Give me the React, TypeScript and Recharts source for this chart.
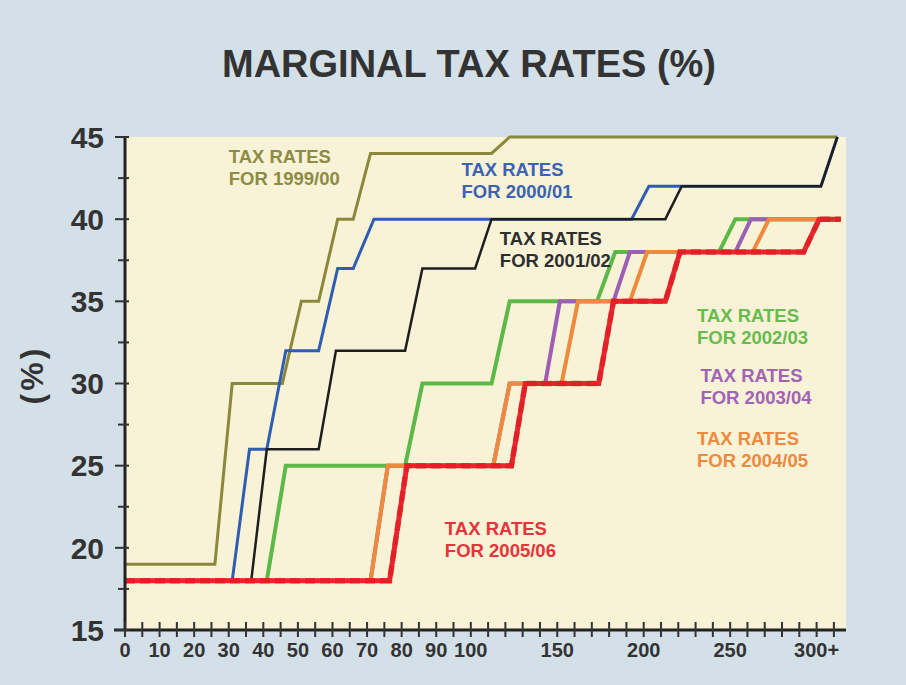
import React from "react";
import { LineChart, Line, XAxis, YAxis, CartesianGrid, ReferenceDot } from "recharts";

const FONT = '"Liberation Sans", Arial, Helvetica, sans-serif';

// income breakpoints (x axis units) and the marginal rate at each breakpoint
const income9900 = [0, 26, 31, 45.5, 51, 56, 61.5, 66, 71, 112, 122.5, 312];
const rate9900 = [19, 19, 30, 30, 35, 35, 40, 40, 44, 44, 45, 45];

const income0001 = [0, 31, 36, 41, 46.5, 56, 61.5, 66, 72, 193, 203, 302.5, 312];
const rate0001 = [18, 18, 26, 26, 32, 32, 37, 37, 40, 40, 42, 42, 45];

const income0102 = [0, 36.5, 41, 56, 61, 81, 86, 102.5, 112, 212.5, 222, 302.5, 312];
const rate0102 = [18, 18, 26, 26, 32, 32, 37, 37, 40, 40, 42, 42, 45];

const income0203 = [0, 41, 46.5, 81, 86, 112, 122.5, 173, 183.5, 243.5, 253, 314];
const rate0203 = [18, 18, 25, 25, 30, 30, 35, 35, 38, 38, 40, 40];

const income0304 = [0, 71, 76, 113, 122.5, 143, 151.5, 182.5, 192, 253, 262, 314];
const rate0304 = [18, 18, 25, 25, 30, 30, 35, 35, 38, 38, 40, 40];

const income0405 = [0, 71, 76, 113, 122.5, 152.5, 162, 192, 202, 263, 272.5, 314];
const rate0405 = [18, 18, 25, 25, 30, 30, 35, 35, 38, 38, 40, 40];

const income0506 = [0, 76.5, 81.5, 123.5, 131.5, 174, 182.5, 212.5, 221, 292.5, 301.5, 314];
const rate0506 = [18, 18, 25, 25, 30, 30, 35, 35, 38, 38, 40, 40];

const xLabelIncomes = [0, 10, 20, 30, 40, 50, 60, 70, 80, 90, 100, 150, 200, 250, 300];
const xLabelTexts = ["0", "10", "20", "30", "40", "50", "60", "70", "80", "90", "100", "150", "200", "250", "300+"];
const yTicks = [15, 17.5, 20, 22.5, 25, 27.5, 30, 32.5, 35, 37.5, 40, 42.5, 45];

// axis is linear to 100, then squeezed by half beyond it
const toPos = (income: number) => (income <= 100 ? income : 100 + (income - 100) / 2);

const xTicks = Array.from({ length: 42 }, (_, i) => i * 5);

const pts = (inc: number[], rate: number[]) => inc.map((v, i) => ({ pos: toPos(v), rate: rate[i] }));

const series = [
  { key: "9900", data: pts(income9900, rate9900), color: "#8a883a", width: 3 },
  { key: "0001", data: pts(income0001, rate0001), color: "#2f5db3", width: 3 },
  { key: "0102", data: pts(income0102, rate0102), color: "#1e1e1e", width: 2.5 },
  { key: "0203", data: pts(income0203, rate0203), color: "#5cb947", width: 4 },
  { key: "0304", data: pts(income0304, rate0304), color: "#9d5fb5", width: 4 },
  { key: "0405", data: pts(income0405, rate0405), color: "#ef8a3c", width: 4 },
];
const red = pts(income0506, rate0506);

const notes = [
  { income: 30, rate: 43.4, color: "#8d8b45", year: "1999/00" },
  { income: 97.3, rate: 42.6, color: "#3a63b3", year: "2000/01" },
  { income: 116.8, rate: 38.4, color: "#2e2e2e", year: "2001/02" },
  { income: 230.8, rate: 33.75, color: "#68bb4e", year: "2002/03" },
  { income: 232.8, rate: 30.1, color: "#a163b6", year: "2003/04" },
  { income: 230.8, rate: 26.25, color: "#ee8a3e", year: "2004/05" },
  { income: 92.5, rate: 20.8, color: "#e5343a", year: "2005/06" },
];

const XTick = (props: any) => {
  const { x, y, payload } = props;
  const idx = xLabelIncomes.findIndex((v) => Math.abs(toPos(v) - payload.value) < 0.01);
  return (
    <g>
      <line x1={x} x2={x} y1={y - 8} y2={y + 7} stroke="#333" strokeWidth={2} />
      {payload.value === 0 && <line x1={x - 11} x2={x} y1={y} y2={y} stroke="#222" strokeWidth={3} />}
      {idx >= 0 && (
        <text x={x} y={y + 27} textAnchor="middle" fontSize={20} fontWeight="bold" fill="#333" fontFamily={FONT}>
          {xLabelTexts[idx]}
        </text>
      )}
    </g>
  );
};

const YTick = (props: any) => {
  const { x, y, payload } = props;
  const major = payload.value % 5 === 0;
  return (
    <g>
      <line x1={x - (major ? 10 : 7)} x2={x + 4} y1={y} y2={y} stroke="#333" strokeWidth={2} />
      {major && (
        <text x={x - 21} y={y} dy="0.36em" textAnchor="end" fontSize={30} fontWeight="bold" fill="#333" fontFamily={FONT}>
          {payload.value}
        </text>
      )}
    </g>
  );
};

const Note = ({ cx, cy, color, year }: any) => (
  <text x={cx} y={cy} fontSize={18.5} fontWeight="bold" fill={color} fontFamily={FONT}>
    <tspan x={cx} y={cy}>TAX RATES</tspan>
    <tspan x={cx} y={cy + 22}>{"FOR " + year}</tspan>
  </text>
);

export default function App() {
  return (
    <div style={{ position: "absolute", left: 0, top: 0, width: 906, height: 685, background: "#d4e0e8", overflow: "hidden" }}>
      <LineChart width={906} height={685} margin={{ top: 137, right: 60, bottom: 0, left: 0 }}>
        <CartesianGrid horizontal={false} vertical={false} fill="#f8f2d6" stroke="none" />
        <XAxis
          type="number"
          dataKey="pos"
          domain={[0, 208.5]}
          ticks={xTicks}
          interval={0}
          allowDataOverflow
          height={55}
          tickLine={false}
          tickSize={0}
          tickMargin={0}
          tick={XTick}
          axisLine={{ stroke: "#222", strokeWidth: 3 }}
        />
        <YAxis
          type="number"
          domain={[15, 45]}
          ticks={yTicks}
          interval={0}
          width={125}
          tickLine={false}
          tickSize={0}
          tickMargin={0}
          tick={YTick}
          axisLine={{ stroke: "#222", strokeWidth: 3 }}
        />
        {series.map((s) => (
          <Line
            key={s.key}
            data={s.data}
            dataKey="rate"
            type="linear"
            stroke={s.color}
            strokeWidth={s.width}
            dot={false}
            activeDot={false}
            isAnimationActive={false}
          />
        ))}
        <Line data={red} dataKey="rate" type="linear" stroke="#e8262b" strokeWidth={5} dot={false} activeDot={false} isAnimationActive={false} />
        <Line
          data={red}
          dataKey="rate"
          type="linear"
          stroke="#de1d23"
          strokeOpacity={0.7}
          strokeWidth={5.5}
          strokeDasharray="10 5"
          dot={false}
          activeDot={false}
          isAnimationActive={false}
        />
        {notes.map((n) => (
          <ReferenceDot
            key={n.year}
            x={toPos(n.income)}
            y={n.rate}
            r={0}
            ifOverflow="visible"
            shape={(p: any) => <Note cx={p.cx} cy={p.cy} color={n.color} year={n.year} />}
          />
        ))}
      </LineChart>
      <svg width={906} height={685} style={{ position: "absolute", left: 0, top: 0, pointerEvents: "none" }}>
        <text x={469} y={77} textAnchor="middle" fontSize={38} fontWeight="bold" fill="#333" fontFamily={FONT}>
          MARGINAL TAX RATES (%)
        </text>
        <text
          transform="translate(43,375) rotate(-90)"
          textAnchor="middle"
          fontSize={32}
          fontWeight="bold"
          fill="#333"
          fontFamily={FONT}
          letterSpacing={3}
        >
          (%)
        </text>
      </svg>
    </div>
  );
}
